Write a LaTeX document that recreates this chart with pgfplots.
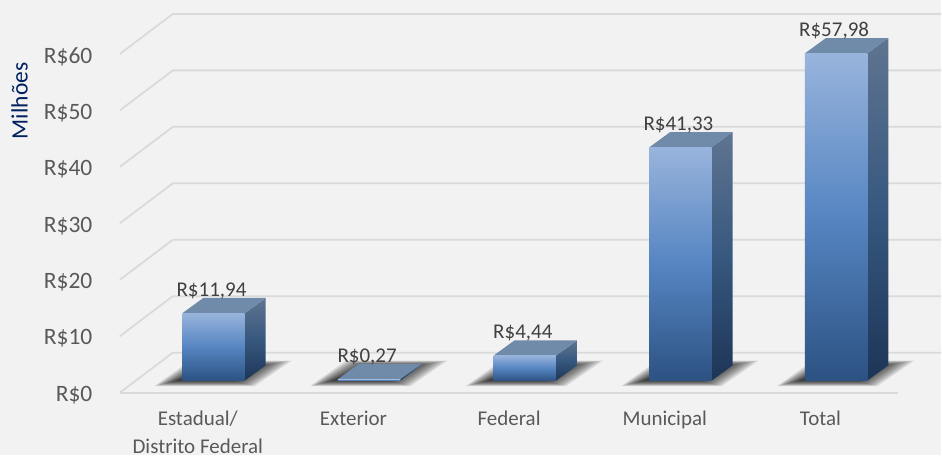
\documentclass[border=0pt]{standalone}
\usepackage{fontspec}
\setmainfont{Carlito}
\usepackage{pgfplots}
\pgfplotsset{compat=1.18}
\definecolor{bgc}{HTML}{F2F2F2}
\definecolor{gridc}{HTML}{DADADA}
\definecolor{labc}{HTML}{595959}
\definecolor{valc}{HTML}{404040}
\definecolor{navy}{HTML}{002060}
\definecolor{ftop}{HTML}{98B4DC}
\definecolor{fmid}{HTML}{5685C2}
\definecolor{fbot}{HTML}{2C5282}
\definecolor{stop}{HTML}{5F7490}
\definecolor{smid}{HTML}{37587F}
\definecolor{sbot}{HTML}{1D3557}
\definecolor{ttop}{HTML}{708AAA}
% one shadow layer: #1 bar centre, #2 inset in pixels
\newcommand{\shadowlayer}[2]{%
  \pgfmathsetmacro\sxa{#1-0.2003+(-28+#2)/155.8}%
  \pgfmathsetmacro\sxb{#1+0.2003+(10-#2)/155.8}%
  \pgfmathsetmacro\sxc{#1+0.2003+(47-1.6*#2)/155.8}%
  \pgfmathsetmacro\sxd{#1-0.2003+(8+#2)/155.8}%
  \pgfmathsetmacro\sya{(-5.5+0.25*#2)/5.65}%
  \pgfmathsetmacro\syb{(20-0.25*#2)/5.65}%
  \addplot[draw=none,fill=black,fill opacity=0.1,forget plot] coordinates {(\sxa,\sya) (\sxb,\sya) (\sxc,\syb) (\sxd,\syb)} -- cycle;
}
\newcommand{\barshadow}[1]{%
  \shadowlayer{#1}{0}\shadowlayer{#1}{2}\shadowlayer{#1}{4}\shadowlayer{#1}{6}%
  \shadowlayer{#1}{8}\shadowlayer{#1}{10}\shadowlayer{#1}{12}\shadowlayer{#1}{14}%
  \shadowlayer{#1}{16}\shadowlayer{#1}{18}\shadowlayer{#1}{20}\shadowlayer{#1}{22}%
}
% side and top faces: #1 bar centre, #2 value
\newcommand{\barfaces}[2]{%
  \pgfmathsetmacro\xl{#1-0.2003}%
  \pgfmathsetmacro\xr{#1+0.2003}%
  \pgfmathsetmacro\xld{\xl+0.1348}%
  \pgfmathsetmacro\xrd{\xr+0.1348}%
  \pgfmathsetmacro\yt{#2+2.71}%
  \addplot[draw=none,top color=stop,bottom color=sbot,middle color=smid,forget plot] coordinates {(\xr,0) (\xrd,2.71) (\xrd,\yt) (\xr,#2)} -- cycle;
  \addplot[draw=none,fill=ttop,forget plot] coordinates {(\xl,#2) (\xr,#2) (\xrd,\yt) (\xld,\yt)} -- cycle;
}
\pgfplotsset{frontbar/.style={ybar,bar width=62.4pt,bar shift=0pt,draw=none,
  top color=ftop,bottom color=fbot,middle color=fmid,forget plot}}
\begin{document}
\begin{tikzpicture}[x=1pt,y=1pt]
\fill[bgc] (0,0) rectangle (942,455);
\begin{axis}[
  at={(120pt,62pt)},anchor=south west,
  scale only axis,width=822pt,height=393pt,
  xmin=-0.6014,xmax=4.6746,ymin=-2.12,ymax=67.43,
  clip=false,
  axis line style={draw=none},
  tick style={draw=none},
  /pgf/number format/assume math mode=true,
  xtick={-0.1008,0.8992,1.8992,2.8992,3.8992},
  xticklabels={{Estadual/\\Distrito Federal},Exterior,Federal,Municipal,Total},
  xticklabel style={align=center,font=\fontsize{21}{28}\selectfont,text=labc,yshift=-15pt},
  ytick={-2.12,7.88,17.88,27.88,37.88,47.88,57.88},
  yticklabels={R\$0,R\$10,R\$20,R\$30,R\$40,R\$50,R\$60},
  yticklabel style={font=\fontsize{23.5}{26}\selectfont,text=labc,xshift=-24pt,yshift=-2.5pt},
]
% gridlines: front edge, depth edge, back wall
\addplot[gridc,line width=1.8pt,forget plot] coordinates {(-0.6014,-2.12) (-0.2612,4.96) (4.6746,4.96)};
\addplot[gridc,line width=1.8pt,forget plot] coordinates {(-0.6014,7.88) (-0.2612,14.96) (4.6746,14.96)};
\addplot[gridc,line width=1.8pt,forget plot] coordinates {(-0.6014,17.88) (-0.2612,24.96) (4.6746,24.96)};
\addplot[gridc,line width=1.8pt,forget plot] coordinates {(-0.6014,27.88) (-0.2612,34.96) (4.6746,34.96)};
\addplot[gridc,line width=1.8pt,forget plot] coordinates {(-0.6014,37.88) (-0.2612,44.96) (4.6746,44.96)};
\addplot[gridc,line width=1.8pt,forget plot] coordinates {(-0.6014,47.88) (-0.2612,54.96) (4.6746,54.96)};
\addplot[gridc,line width=1.8pt,forget plot] coordinates {(-0.6014,57.88) (-0.2612,64.96) (4.6746,64.96)};
\addplot[gridc,line width=1.8pt,forget plot] coordinates {(-0.6014,-2.12) (4.3986,-2.12)};
\barshadow{0}\barshadow{1}\barshadow{2}\barshadow{3}\barshadow{4}
\barfaces{0}{11.94}
\barfaces{1}{0.27}
\barfaces{2}{4.44}
\barfaces{3}{41.33}
\barfaces{4}{57.98}
\addplot[frontbar] coordinates {(0,11.94)};
\addplot[frontbar] coordinates {(1,0.27)};
\addplot[frontbar] coordinates {(2,4.44)};
\addplot[frontbar] coordinates {(3,41.33)};
\addplot[frontbar] coordinates {(4,57.98)};
\addplot[draw=none,mark=none,
  nodes near coords={R\$\pgfmathprintnumber[fixed,fixed zerofill,precision=2,use comma,assume math mode=true]{\pgfplotspointmeta}},
  nodes near coords style={anchor=center,yshift=22.5pt,xshift=-2pt,text=valc,font=\fontsize{21}{24}\selectfont}]
  coordinates {(0,11.94) (1,0.27) (2,4.44) (3,41.33) (4,57.98)};
\end{axis}
\node[rotate=90,text=navy,font=\fontsize{23.5}{26}\selectfont] at (19.5,354) {Milhões};
\end{tikzpicture}
\end{document}
